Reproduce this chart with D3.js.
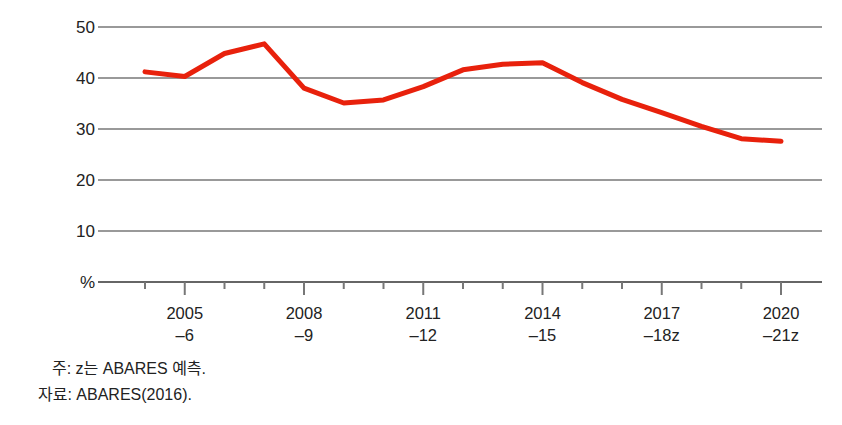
<!DOCTYPE html>
<html><head><meta charset="utf-8">
<script src="https://cdn.jsdelivr.net/npm/d3@7"></script>
<style>body{margin:0;background:#fff}</style>
</head><body>
<svg id="c" width="842" height="425"></svg>
<script>
const years = [2004,2005,2006,2007,2008,2009,2010,2011,2012,2013,2014,2015,2016,2017,2018,2019,2020];
const values = [41.2,40.3,44.8,46.7,38.0,35.1,35.7,38.3,41.6,42.7,43.0,39.1,35.8,33.2,30.5,28.1,27.6];
const labelYears = [2005,2008,2011,2014,2017,2020];
const labelSecond = ["–6","–9","–12","–15","–18z","–21z"];
const yTicks = [0,10,20,30,40,50];
const notes = ["주: z는 ABARES 예측.","자료: ABARES(2016)."];

const svg = d3.select("#c");
const font = "'Liberation Sans', Arial, sans-serif";
const x = d3.scaleLinear().domain([2004,2020]).range([145,781]);
const y = d3.scaleLinear().domain([0,50]).range([282,27]);
const x0 = 98, x1 = 822;

// gridlines
svg.append("g").selectAll("line").data(yTicks).join("line")
  .attr("x1",x0).attr("x2",x1).attr("y1",d=>y(d)).attr("y2",d=>y(d))
  .attr("stroke",d=>d===0?"#666":"#777").attr("stroke-width",d=>d===0?2:1.5);

// y labels
svg.append("g").selectAll("text").data(yTicks).join("text")
  .attr("x",95).attr("y",d=>y(d)).attr("dy","0.36em").attr("text-anchor","end")
  .attr("font-family",font).attr("font-size",17).attr("fill","#222")
  .text(d=>d===0?"%":d);

// x ticks
svg.append("g").selectAll("line").data(years).join("line")
  .attr("x1",d=>x(d)).attr("x2",d=>x(d)).attr("y1",282)
  .attr("y2",d=>labelYears.includes(d)?295:289)
  .attr("stroke","#777").attr("stroke-width",2);

// x labels
const xl = svg.append("g").selectAll("text").data(labelYears).join("text")
  .attr("text-anchor","middle").attr("font-family",font).attr("font-size",16.5).attr("fill","#222");
xl.append("tspan").attr("x",d=>x(d)).attr("y",319).text(d=>d);
xl.append("tspan").attr("x",d=>x(d)).attr("y",341).text((d,i)=>labelSecond[i]);

// line
svg.append("path").datum(years.map((d,i)=>[d,values[i]]))
  .attr("d",d3.line().x(d=>x(d[0])).y(d=>y(d[1])))
  .attr("fill","none").attr("stroke","#e8210c").attr("stroke-width",5)
  .attr("stroke-linejoin","round").attr("stroke-linecap","round");

// notes
const nf = "'Liberation Sans','Noto Sans CJK KR', sans-serif";
svg.append("text").attr("x",52).attr("y",374).attr("font-family",nf)
  .attr("font-size",16).attr("fill","#222").text(notes[0]);
svg.append("text").attr("x",38).attr("y",400).attr("font-family",nf)
  .attr("font-size",16).attr("fill","#222").text(notes[1]);
</script>
</body></html>
